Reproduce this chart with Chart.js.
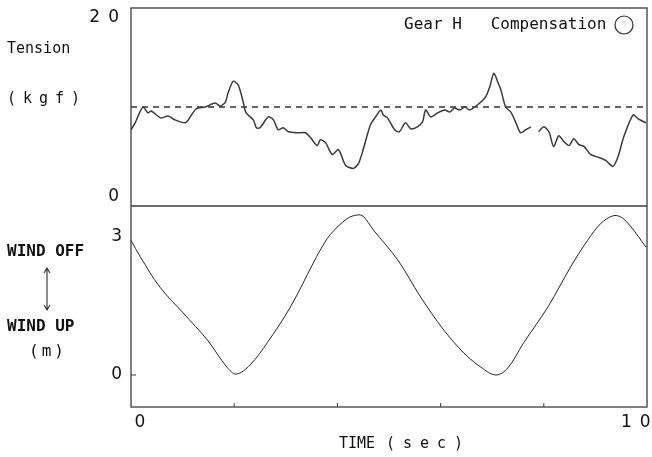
<!DOCTYPE html>
<html>
<head>
<meta charset="utf-8">
<script src="https://cdn.jsdelivr.net/npm/chart.js@4.4.1/dist/chart.umd.min.js"></script>
<style>
  html, body { margin: 0; padding: 0; background: #fff; }
</style>
</head>
<body>
<canvas id="chart" width="652" height="457"></canvas>
<script>
// Time axis (sec)
const timeTicks = [0, 2, 4, 6, 8, 10];
const timeLabels = ['0', '', '', '', '', '1 0'];

// Upper panel: tension (kgf)
const tensionTime = [
    0, 0.08, 0.23, 0.33, 0.39, 0.58, 0.72, 0.85, 1.05, 1.11,
    1.26, 1.44, 1.63, 1.73, 1.83, 1.88, 1.98, 2.08, 2.18, 2.23,
    2.37, 2.43, 2.50, 2.66, 2.76, 2.85, 2.95, 3.05, 3.24, 3.38,
    3.48, 3.61, 3.67, 3.77, 3.90, 4.02, 4.16, 4.31, 4.41, 4.50,
    4.64, 4.74, 4.84, 4.89, 4.97, 5.11, 5.20, 5.32, 5.42, 5.55,
    5.65, 5.71, 5.81, 5.94, 6.08, 6.18, 6.27, 6.37, 6.47, 6.56,
    6.66, 6.78, 6.87, 6.95, 7.03, 7.11, 7.17, 7.26, 7.36, 7.46,
    7.55, 7.65, 7.75, 7.83, 7.90, 8.00, 8.10, 8.19, 8.29, 8.39,
    8.49, 8.58, 8.68, 8.78, 8.91, 9.07, 9.20, 9.34, 9.44, 9.55,
    9.73, 9.83, 9.98
];
const tensionValues = [
    7.7, 8.4, 10.0, 9.4, 9.6, 8.9, 9.1, 8.7, 8.4, 8.7,
    9.8, 10.0, 10.4, 10.1, 10.5, 11.4, 12.6, 12.2, 10.4, 9.4,
    8.7, 7.9, 7.9, 9.0, 8.7, 7.7, 7.9, 7.5, 7.4, 7.4,
    6.9, 6.1, 6.7, 6.4, 5.2, 5.7, 4.1, 3.8, 4.3, 5.7,
    8.2, 9.0, 9.7, 9.2, 8.9, 7.7, 7.5, 8.4, 7.8, 8.0,
    8.5, 9.7, 9.0, 9.4, 9.7, 9.5, 9.9, 9.7, 10.0, 9.7,
    10.0, 10.5, 11.0, 12.0, 13.4, 12.5, 11.7, 10.0, 9.5, 8.4,
    7.4, 7.7, 8.0, null, 7.5, 8.0, 7.5, 6.0, 7.1, 6.5,
    6.1, 6.8, 6.2, 6.0, 5.2, 4.9, 4.6, 4.0, 5.0, 7.0,
    9.2, 8.8, 8.4
];
const tensionRefTime = [0, 9.95];
const tensionRefValues = [10, 10];
const tensionTicks = [0, 20];
const tensionTickLabels = ['0', '2 0'];

// Lower panel: wind off / wind up (m)
const windTime = [
    0, 0.18, 0.56, 1.01, 1.48, 1.86, 2.04, 2.31, 2.64, 3.09,
    3.53, 3.67, 3.86, 4.19, 4.39, 4.50, 4.70, 5.17, 5.61, 6.06,
    6.45, 6.78, 7.07, 7.30, 7.61, 8.08, 8.52, 8.85, 9.11, 9.34,
    9.50, 9.69, 9.98
];
const windValues = [
    2.93, 2.57, 1.91, 1.35, 0.76, 0.17, 0.02, 0.22, 0.70, 1.48,
    2.43, 2.72, 3.05, 3.40, 3.48, 3.45, 3.15, 2.50, 1.70, 0.98,
    0.48, 0.17, 0.0, 0.15, 0.70, 1.48, 2.35, 2.93, 3.30, 3.46,
    3.43, 3.22, 2.78
];
const windTicks = [0, 3];

const toPoints = (xs, ys) => xs.map((x, i) => ({ x: x, y: ys[i] }));

const FONT_MONO = '"DejaVu Sans Mono", monospace';
const FONT_NUM = '"DejaVu Sans", sans-serif';

// frame, ticks and all the labels
const overlay = {
    id: 'overlay',
    afterDraw(chart) {
        const ctx = chart.ctx;
        const { left, right, top, bottom } = chart.chartArea;
        const x = chart.scales.x;
        const yT = chart.scales.yT;
        const yW = chart.scales.yW;

        ctx.save();
        ctx.strokeStyle = '#3c3c3c';
        ctx.lineWidth = 1.3;
        ctx.strokeRect(left, top, right - left, bottom - top);
        ctx.beginPath();
        ctx.moveTo(left, yT.bottom);
        ctx.lineTo(right, yT.bottom);
        ctx.stroke();

        // time ticks (inside, bottom)
        ctx.lineWidth = 1;
        timeTicks.slice(1, -1).forEach(t => {
            const px = x.getPixelForValue(t);
            ctx.beginPath();
            ctx.moveTo(px, bottom);
            ctx.lineTo(px, bottom - 4);
            ctx.stroke();
        });
        // wind 0 tick
        const w0 = yW.getPixelForValue(0);
        ctx.beginPath();
        ctx.moveTo(left, w0);
        ctx.lineTo(left + 5, w0);
        ctx.stroke();

        ctx.fillStyle = '#111';
        ctx.textBaseline = 'middle';

        // tick labels
        ctx.font = '17px ' + FONT_NUM;
        ctx.textAlign = 'right';
        ctx.letterSpacing = '8px';
        ctx.fillText(tensionTickLabels[1].replace(' ', ''), 127, yT.getPixelForValue(20) + 10);
        ctx.letterSpacing = '0px';
        ctx.fillText(tensionTickLabels[0], 119, yT.getPixelForValue(0) - 9);
        ctx.fillText(String(windTicks[1]), 122, yW.getPixelForValue(3));
        ctx.fillText(String(windTicks[0]), 122, w0);

        ctx.textAlign = 'center';
        ctx.fillText(timeLabels[0], x.getPixelForValue(0) + 9, 423);
        ctx.textAlign = 'left';
        ctx.letterSpacing = '8px';
        ctx.fillText(timeLabels[5].replace(' ', ''), 621, 423);
        ctx.letterSpacing = '0px';

        // axis titles
        ctx.font = '15px ' + FONT_MONO;
        ctx.fillText('Tension', 7, 49);
        ctx.letterSpacing = '7px';
        ctx.fillText('(kgf)', 7, 99);
        ctx.letterSpacing = '0px';

        ctx.font = 'bold 16px ' + FONT_MONO;
        ctx.fillText('WIND OFF', 7, 252);
        ctx.fillText('WIND UP', 7, 327);
        ctx.font = '16px ' + FONT_MONO;
        ctx.letterSpacing = '3px';
        ctx.fillText('(m)', 29, 352);
        ctx.letterSpacing = '0px';

        // up/down arrow
        ctx.strokeStyle = '#2a2a2a';
        ctx.lineWidth = 1.1;
        ctx.beginPath();
        ctx.moveTo(47, 268); ctx.lineTo(47, 310);
        ctx.moveTo(44, 273); ctx.lineTo(47, 268); ctx.lineTo(50, 273);
        ctx.moveTo(44, 305); ctx.lineTo(47, 310); ctx.lineTo(50, 305);
        ctx.stroke();

        ctx.font = '15px ' + FONT_MONO;
        ctx.fillText('TIME', 339, 444);
        ctx.letterSpacing = '8px';
        ctx.fillText('(sec)', 386, 444);
        ctx.letterSpacing = '0px';

        // legend line
        ctx.font = '16px ' + FONT_MONO;
        ctx.fillText('Gear H   Compensation', 404, 25);
        ctx.lineWidth = 1.2;
        ctx.beginPath();
        ctx.arc(624, 25, 9, 0, Math.PI * 2);
        ctx.stroke();

        ctx.restore();
    }
};

new Chart(document.getElementById('chart'), {
    type: 'line',
    data: {
        datasets: [
            {
                label: 'Tension',
                data: toPoints(tensionTime, tensionValues),
                yAxisID: 'yT',
                borderColor: '#3a3a3a',
                borderWidth: 1.5,
                pointRadius: 0,
                tension: 0.25,
                spanGaps: false
            },
            {
                label: 'Reference',
                data: toPoints(tensionRefTime, tensionRefValues),
                yAxisID: 'yT',
                borderColor: '#333',
                borderWidth: 1.3,
                borderDash: [6, 5],
                pointRadius: 0
            },
            {
                label: 'Wind',
                data: toPoints(windTime, windValues),
                yAxisID: 'yW',
                borderColor: '#222',
                borderWidth: 1,
                pointRadius: 0,
                tension: 0.35
            }
        ]
    },
    options: {
        responsive: false,
        animation: false,
        layout: { padding: { left: 131, right: 5, top: 8, bottom: 50 } },
        plugins: { legend: { display: false }, tooltip: { enabled: false } },
        scales: {
            x: {
                type: 'linear',
                min: 0,
                max: 10,
                grid: { display: false },
                border: { display: false },
                ticks: { display: false },
                afterFit(scale) { scale.height = 0; }
            },
            yW: {
                type: 'linear',
                position: 'left',
                stack: 'panels',
                stackWeight: 201,
                min: -0.696,
                max: 3.674,
                grid: { display: false },
                border: { display: false },
                ticks: { display: false },
                afterFit(scale) { scale.width = 0; }
            },
            yT: {
                type: 'linear',
                position: 'left',
                stack: 'panels',
                stackWeight: 198,
                min: 0,
                max: 20,
                grid: { display: false },
                border: { display: false },
                ticks: { display: false },
                afterFit(scale) { scale.width = 0; }
            }
        }
    },
    plugins: [overlay]
});
</script>
</body>
</html>
